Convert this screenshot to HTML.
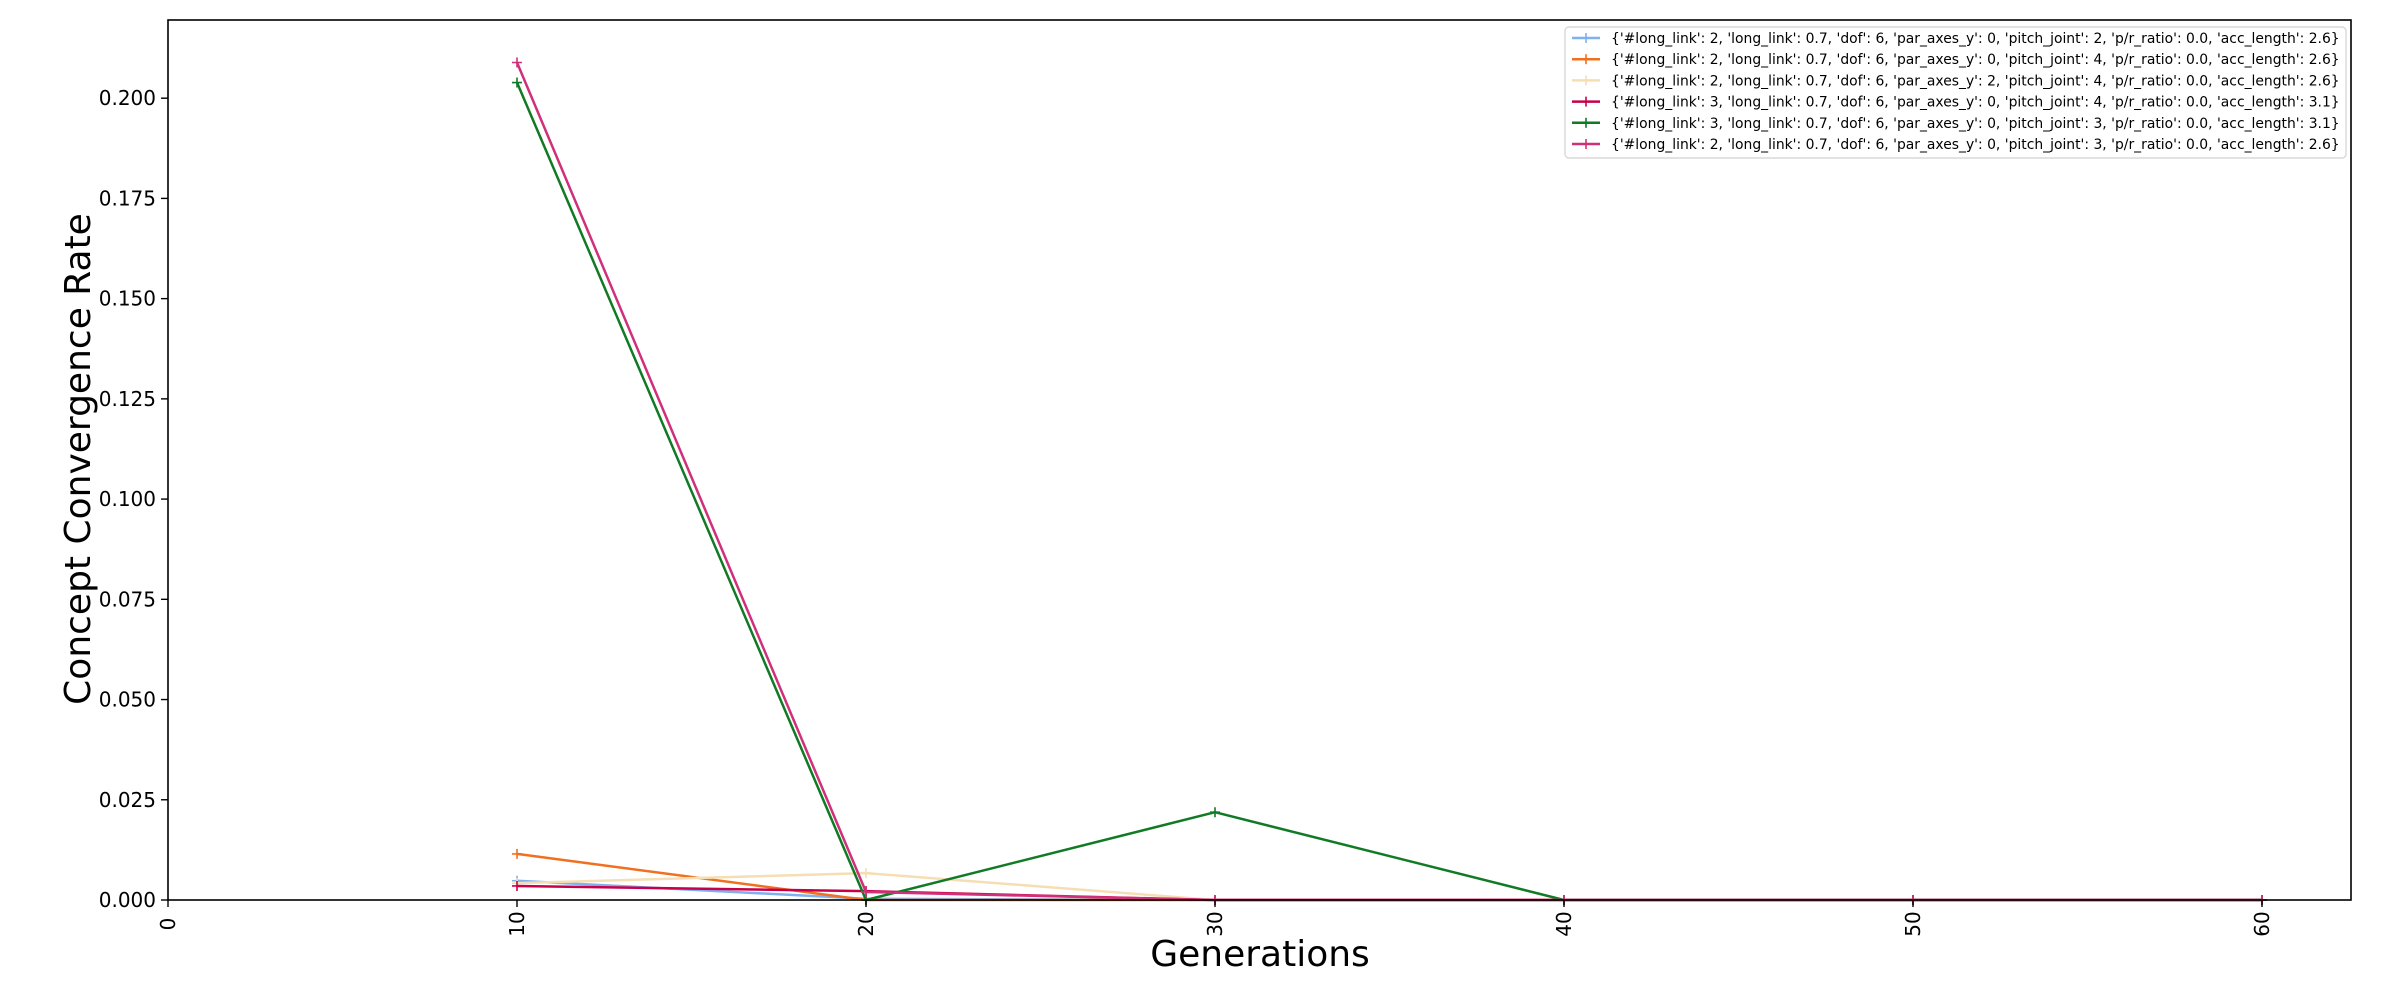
<!DOCTYPE html>
<html><head><meta charset="utf-8"><style>
html,body{margin:0;padding:0;background:#fff;}
svg text{font-family:"DejaVu Sans","Liberation Sans",sans-serif;}
</style></head><body>
<svg id="chart" width="2400" height="1000" xmlns="http://www.w3.org/2000/svg">
<rect width="2400" height="1000" fill="#fff"/>
<g id="marks"></g>
<g id="axes"></g>
<g id="legend"></g>
</svg>
<script>
const generations = [10, 20, 30, 40, 50, 60];
const seriesLabels = [
"{'#long_link': 2, 'long_link': 0.7, 'dof': 6, 'par_axes_y': 0, 'pitch_joint': 2, 'p/r_ratio': 0.0, 'acc_length': 2.6}",
"{'#long_link': 2, 'long_link': 0.7, 'dof': 6, 'par_axes_y': 0, 'pitch_joint': 4, 'p/r_ratio': 0.0, 'acc_length': 2.6}",
"{'#long_link': 2, 'long_link': 0.7, 'dof': 6, 'par_axes_y': 2, 'pitch_joint': 4, 'p/r_ratio': 0.0, 'acc_length': 2.6}",
"{'#long_link': 3, 'long_link': 0.7, 'dof': 6, 'par_axes_y': 0, 'pitch_joint': 4, 'p/r_ratio': 0.0, 'acc_length': 3.1}",
"{'#long_link': 3, 'long_link': 0.7, 'dof': 6, 'par_axes_y': 0, 'pitch_joint': 3, 'p/r_ratio': 0.0, 'acc_length': 3.1}",
"{'#long_link': 2, 'long_link': 0.7, 'dof': 6, 'par_axes_y': 0, 'pitch_joint': 3, 'p/r_ratio': 0.0, 'acc_length': 2.6}"
];
const seriesBlue = [0.0048, 0.0003, 0, 0, 0, 0];
const seriesOrange = [0.0115, 0, 0, 0, 0, 0];
const seriesWheat = [0.0042, 0.0067, 0, 0, 0, 0];
const seriesCrimson = [0.0035, 0.0022, 0, 0, 0, 0];
const seriesGreen = [0.2039, 0, 0.0219, 0, 0, 0];
const seriesMagenta = [0.2089, 0.002, 0, 0, 0, 0];
const xTicks = [0, 10, 20, 30, 40, 50, 60];
const yTicks = [0, 0.025, 0.05, 0.075, 0.1, 0.125, 0.15, 0.175, 0.2];
const yTickLabels = ["0.000","0.025","0.050","0.075","0.100","0.125","0.150","0.175","0.200"];

const colors = ["#7fb0f0","#f07020","#f5deb3","#c8004a","#117a25","#d0307a"];
const allSeries = [seriesBlue, seriesOrange, seriesWheat, seriesCrimson, seriesGreen, seriesMagenta];
const L=168,R=2351,T=20,B=900, XMAX=62.55, YMAX=0.2195;
const sx = v => L + (v/XMAX)*(R-L);
const sy = v => B - (v/YMAX)*(B-T);
const NS="http://www.w3.org/2000/svg";
function mk(tag, attrs, parent){const e=document.createElementNS(NS,tag);for(const k in attrs)e.setAttribute(k,attrs[k]);parent.appendChild(e);return e;}
const marks=document.getElementById('marks'), axes=document.getElementById('axes'), legend=document.getElementById('legend');

allSeries.forEach((s,i)=>{
  const pts=s.map((v,j)=>sx(generations[j])+','+sy(v)).join(' ');
  const pl=mk('polyline',{points:pts,fill:'none',stroke:colors[i],'stroke-width':2.5,'stroke-linejoin':'round'},marks);
  
  
  s.forEach((v,j)=>{
    const x=sx(generations[j]), y=sy(v);
    const m=mk('path',{d:`M${x-5},${y}H${x+5}M${x},${y-5}V${y+5}`,stroke:colors[i],'stroke-width':1.6},marks);
    
    
  });
});

const frame=mk('rect',{x:L,y:T,width:R-L,height:B-T,fill:'none',stroke:'#000','stroke-width':1.6},axes);



xTicks.forEach(v=>{
  const x=sx(v);
  mk('line',{x1:x,x2:x,y1:B,y2:B+7,stroke:'#000','stroke-width':1.4},axes);
  const t=mk('text',{x:0,y:0,'font-size':20,'text-anchor':'middle','dominant-baseline':'central',transform:`translate(${x},${B+24}) rotate(-90)`},axes);
  t.textContent=v;
  
  
});
yTicks.forEach((v,i)=>{
  const y=sy(v);
  mk('line',{x1:L-7,x2:L,y1:y,y2:y,stroke:'#000','stroke-width':1.4},axes);
  const t=mk('text',{x:L-12,y:y+7,'font-size':20,'text-anchor':'end'},axes);
  t.textContent=yTickLabels[i];
  
  
});
const xl=mk('text',{x:1260,y:966,'font-size':36,'text-anchor':'middle'},axes);
xl.textContent='Generations';


const yl=mk('text',{x:0,y:0,'font-size':36,'text-anchor':'middle',transform:'translate(90,459) rotate(-90)'},axes);
yl.textContent='Concept Convergence Rate';



const lb=mk('rect',{x:1565,y:27,width:781,height:131,rx:4,fill:'#fff','fill-opacity':0.8,stroke:'#d8d8d8','stroke-width':1.4},legend);


seriesLabels.forEach((lab,i)=>{
  const y=38+i*21.2;
  mk('line',{x1:1572,x2:1600,y1:y,y2:y,stroke:colors[i],'stroke-width':2.5},legend);
  mk('line',{x1:1586,x2:1586,y1:y-5,y2:y+5,stroke:colors[i],'stroke-width':1.6},legend);
  const t=mk('text',{x:1611,y:y+5,'font-size':13.9},legend);
  t.textContent=lab;
  
  
});
</script>
</body></html>
